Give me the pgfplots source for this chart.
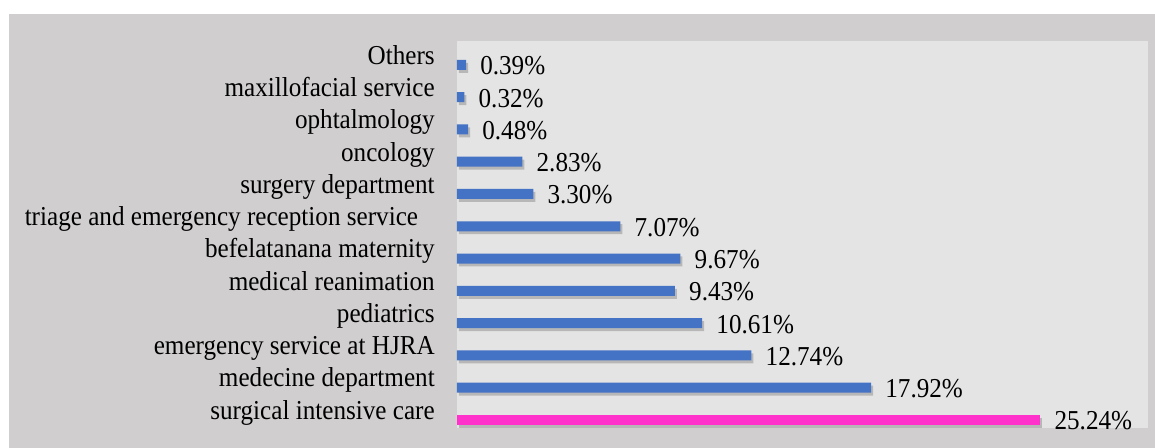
\documentclass[border=0pt]{standalone}
\usepackage{pgfplots}
\pgfplotsset{compat=1.18}
\usepackage{fontspec}
\setmainfont{Liberation Serif}[FakeStretch=0.92]
\definecolor{outerbg}{HTML}{D0CECF}
\definecolor{plotbg}{HTML}{E4E4E4}
\definecolor{barblue}{HTML}{4472C4}
\definecolor{barpink}{HTML}{FF33CC}
\begin{document}
\begin{tikzpicture}
\path[use as bounding box, fill=white] (-342.75pt,-15pt) rectangle (523.5pt,321pt);
\fill[outerbg] (-336pt,-15pt) rectangle (523.5pt,310.5pt);
\begin{axis}[
  at={(0,0)}, anchor=south west,
  width=518.25pt, height=290.25pt, scale only axis,
  xbar, bar width=7.5pt,
  xmin=0, xmax=29.9,
  ymin=-0.25, ymax=11.74,
  axis background/.style={fill=plotbg},
  axis line style={draw=none},
  xtick=\empty,
  ytick={0,...,11},
  major tick length=0pt,
  yticklabels={surgical intensive care, medecine department, emergency service at HJRA, pediatrics, medical reanimation, befelatanana maternity, {triage and emergency reception service\rule{12.5pt}{0pt}}, surgery department, oncology, ophtalmology, maxillofacial service, Others},
  yticklabel style={font=\fontsize{20.5}{23}\selectfont, anchor=base east, inner sep=0pt, xshift=-16.5pt, yshift=0.5pt},
  point meta=x,
  nodes near coords={\pgfmathprintnumber[fixed,fixed zerofill,precision=2,assume math mode=true]{\pgfplotspointmeta}\%},
  nodes near coords style={font=\fontsize{20.5}{23}\selectfont, anchor=base west, inner sep=0pt, xshift=10.5pt, yshift=-7.5pt, text=black},
  clip=false,
]
\addplot[bar shift=0pt, draw=none, fill=barpink,
  preaction={fill=black!45, opacity=0.5, transform canvas={xshift=1.5pt,yshift=-2.2pt}}]
  coordinates {(25.24,0)};
\addplot[bar shift=0pt, draw=none, fill=barblue,
  preaction={fill=black!45, opacity=0.5, transform canvas={xshift=1.5pt,yshift=-2.2pt}}]
  coordinates {(17.92,1) (12.74,2) (10.61,3) (9.43,4) (9.67,5) (7.07,6) (3.30,7) (2.83,8) (0.48,9) (0.32,10) (0.39,11)};
\end{axis}
\end{tikzpicture}
\end{document}
